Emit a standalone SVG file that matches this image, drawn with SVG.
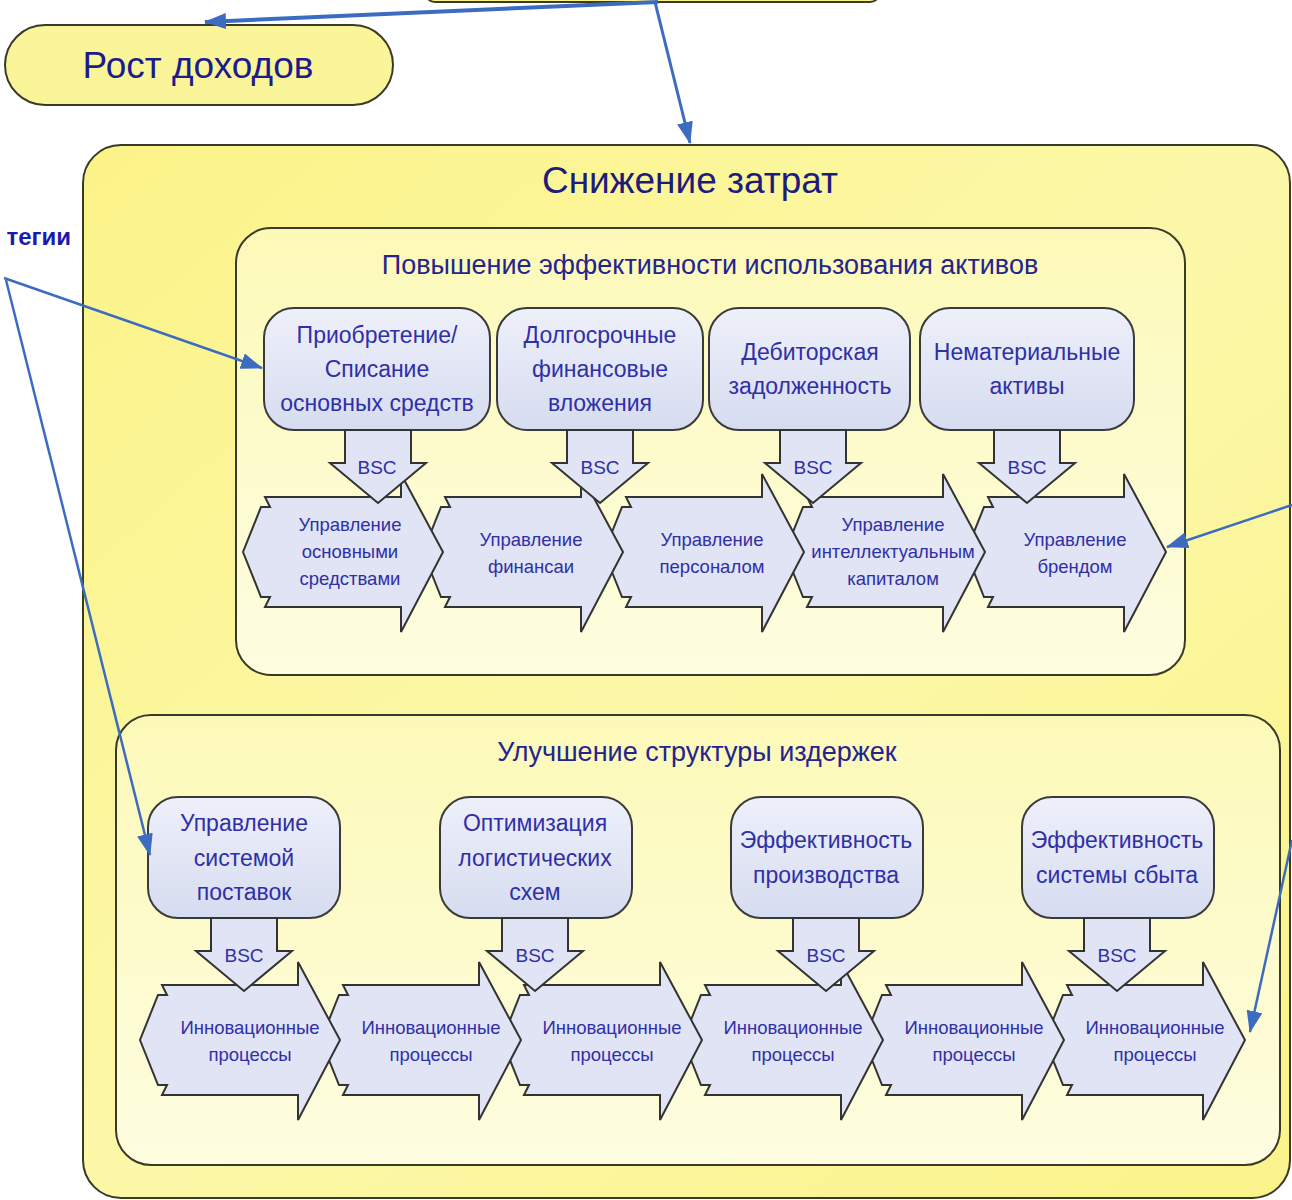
<svg xmlns="http://www.w3.org/2000/svg" xmlns:xlink="http://www.w3.org/1999/xlink" width="1292" height="1200" viewBox="0 0 1292 1200">
<style>
.box{stroke:#3a3a28;stroke-width:2}
.outer{fill:url(#gOuter)}
.inner{fill:url(#gInner)}
.node{fill:url(#gNode);stroke:#3a3a3a;stroke-width:2}
.chev{fill:#e0e4f4;stroke:#333;stroke-width:2;stroke-linejoin:miter}
.bsc{fill:#e0e4f4;stroke:#333;stroke-width:2}
.t{font-family:"Liberation Sans",Arial,sans-serif;text-anchor:middle;fill:#2f2fa8}
.big{font-size:37px;fill:#1c1c7a}
.sub{font-size:27px;fill:#24248e}
.nt{font-size:23px}
.ct{font-size:18.5px}
.bt{font-size:19px}
.conn{stroke:#3b6cc0;stroke-width:3;fill:none}
</style>
<defs>
<linearGradient id="gOuter" x1="0" y1="0" x2="1" y2="1">
<stop offset="0" stop-color="#fbf388"/><stop offset="0.5" stop-color="#fcf8a8"/><stop offset="1" stop-color="#fbf38a"/>
</linearGradient>
<linearGradient id="gInner" x1="0" y1="0" x2="0" y2="1">
<stop offset="0" stop-color="#fcf9b8"/><stop offset="1" stop-color="#fefde0"/>
</linearGradient>
<linearGradient id="gNode" x1="0" y1="0" x2="0" y2="1">
<stop offset="0" stop-color="#eef0fa"/><stop offset="1" stop-color="#d6dcf0"/>
</linearGradient>
<path id="chev" d="M22,-55 L158,-55 L158,-78 L200,0 L158,80 L158,55 L22,55 L27,45 L18,45 L0,0 L18,-45 L27,-45 Z"/>
<path id="bscA" d="M-33,0 L33,0 L33,33 L48,33 L0,73 L-48,33 L-33,33 Z"/>
<marker id="ah" viewBox="0 0 22 16" refX="21" refY="8" markerWidth="22" markerHeight="16" orient="auto" markerUnits="userSpaceOnUse">
<path d="M0,0 L22,8 L0,16 Z" fill="#3b6cc0"/>
</marker>
</defs>

<g id="top-box">
<rect class="box" x="425" y="-40" width="455" height="42" rx="10" fill="#fbf388"/>
</g>

<g id="rost">
<rect class="box" x="5" y="25" width="388" height="80" rx="40" fill="#fbf59a"/>
<text class="t big" x="198" y="78" style="fill:#1c1c8c">Рост доходов</text>
</g>

<g id="label-strategy">
<text x="71" y="245" style="font-family:'Liberation Sans',Arial,sans-serif;font-weight:bold;font-size:24px;fill:#1a1ab0;text-anchor:end">тегии</text>
</g>

<g id="snizhenie">
<rect class="box outer" x="83" y="145" width="1207" height="1053" rx="38"/>
<text class="t big" x="690" y="193">Снижение затрат</text>
</g>

<g id="aktivy">
<rect class="box inner" x="236" y="228" width="949" height="447" rx="35"/>
<text class="t sub" x="710" y="274">Повышение эффективности использования активов</text>
</g>

<g id="izderzhki">
<rect class="box inner" x="116" y="715" width="1164" height="450" rx="35"/>
<text class="t sub" x="697" y="761">Улучшение структуры издержек</text>
</g>

<!-- Row 1 chevrons (drawn right to left) -->
<g id="chev-r1-5"><use href="#chev" class="chev" x="966" y="552"/><text class="t ct" x="1075" y="546">Управление</text><text class="t ct" x="1075" y="573">брендом</text></g>
<g id="chev-r1-4"><use href="#chev" class="chev" x="785" y="552"/><text class="t ct" x="893" y="531">Управление</text><text class="t ct" x="893" y="558">интеллектуальным</text><text class="t ct" x="893" y="585">капиталом</text></g>
<g id="chev-r1-3"><use href="#chev" class="chev" x="604" y="552"/><text class="t ct" x="712" y="546">Управление</text><text class="t ct" x="712" y="573">персоналом</text></g>
<g id="chev-r1-2"><use href="#chev" class="chev" x="423" y="552"/><text class="t ct" x="531" y="546">Управление</text><text class="t ct" x="531" y="573">финансаи</text></g>
<g id="chev-r1-1"><use href="#chev" class="chev" x="243" y="552"/><text class="t ct" x="350" y="531">Управление</text><text class="t ct" x="350" y="558">основными</text><text class="t ct" x="350" y="585">средствами</text></g>

<!-- Row 2 chevrons -->
<g id="chev-r2-6"><use href="#chev" class="chev" x="1045" y="1040"/><text class="t ct" x="1155" y="1034">Инновационные</text><text class="t ct" x="1155" y="1061">процессы</text></g>
<g id="chev-r2-5"><use href="#chev" class="chev" x="864" y="1040"/><text class="t ct" x="974" y="1034">Инновационные</text><text class="t ct" x="974" y="1061">процессы</text></g>
<g id="chev-r2-4"><use href="#chev" class="chev" x="683" y="1040"/><text class="t ct" x="793" y="1034">Инновационные</text><text class="t ct" x="793" y="1061">процессы</text></g>
<g id="chev-r2-3"><use href="#chev" class="chev" x="502" y="1040"/><text class="t ct" x="612" y="1034">Инновационные</text><text class="t ct" x="612" y="1061">процессы</text></g>
<g id="chev-r2-2"><use href="#chev" class="chev" x="321" y="1040"/><text class="t ct" x="431" y="1034">Инновационные</text><text class="t ct" x="431" y="1061">процессы</text></g>
<g id="chev-r2-1"><use href="#chev" class="chev" x="140" y="1040"/><text class="t ct" x="250" y="1034">Инновационные</text><text class="t ct" x="250" y="1061">процессы</text></g>

<!-- Row 1 nodes -->
<g id="n-priobretenie"><rect class="node" x="264" y="308" width="226" height="122" rx="30"/><text class="t nt" x="377" y="343">Приобретение/</text><text class="t nt" x="377" y="377">Списание</text><text class="t nt" x="377" y="411">основных средств</text></g>
<g id="n-dolgosrochnye"><rect class="node" x="497" y="308" width="206" height="122" rx="30"/><text class="t nt" x="600" y="343">Долгосрочные</text><text class="t nt" x="600" y="377">финансовые</text><text class="t nt" x="600" y="411">вложения</text></g>
<g id="n-debitorskaya"><rect class="node" x="709" y="308" width="201" height="122" rx="30"/><text class="t nt" x="810" y="360">Дебиторская</text><text class="t nt" x="810" y="394">задолженность</text></g>
<g id="n-nematerialnye"><rect class="node" x="920" y="308" width="214" height="122" rx="30"/><text class="t nt" x="1027" y="360">Нематериальные</text><text class="t nt" x="1027" y="394">активы</text></g>

<!-- Row 1 BSC -->
<g id="bsc-r1-1"><use href="#bscA" class="bsc" x="378" y="430"/><text class="t bt" x="377" y="474">BSC</text></g>
<g id="bsc-r1-2"><use href="#bscA" class="bsc" x="600" y="430"/><text class="t bt" x="600" y="474">BSC</text></g>
<g id="bsc-r1-3"><use href="#bscA" class="bsc" x="813" y="430"/><text class="t bt" x="813" y="474">BSC</text></g>
<g id="bsc-r1-4"><use href="#bscA" class="bsc" x="1027" y="430"/><text class="t bt" x="1027" y="474">BSC</text></g>

<!-- Row 2 nodes -->
<g id="n-postavki"><rect class="node" x="148" y="797" width="192" height="121" rx="30"/><text class="t nt" x="244" y="831">Управление</text><text class="t nt" x="244" y="866">системой</text><text class="t nt" x="244" y="900">поставок</text></g>
<g id="n-logistika"><rect class="node" x="440" y="797" width="192" height="121" rx="30"/><text class="t nt" x="535" y="831">Оптимизация</text><text class="t nt" x="535" y="866">логистических</text><text class="t nt" x="535" y="900">схем</text></g>
<g id="n-proizvodstvo"><rect class="node" x="731" y="797" width="192" height="121" rx="30"/><text class="t nt" x="826" y="848">Эффективность</text><text class="t nt" x="826" y="883">производства</text></g>
<g id="n-sbyt"><rect class="node" x="1022" y="797" width="192" height="121" rx="30"/><text class="t nt" x="1117" y="848">Эффективность</text><text class="t nt" x="1117" y="883">системы сбыта</text></g>

<!-- Row 2 BSC -->
<g id="bsc-r2-1"><use href="#bscA" class="bsc" x="244" y="918"/><text class="t bt" x="244" y="962">BSC</text></g>
<g id="bsc-r2-2"><use href="#bscA" class="bsc" x="535" y="918"/><text class="t bt" x="535" y="962">BSC</text></g>
<g id="bsc-r2-3"><use href="#bscA" class="bsc" x="826" y="918"/><text class="t bt" x="826" y="962">BSC</text></g>
<g id="bsc-r2-4"><use href="#bscA" class="bsc" x="1117" y="918"/><text class="t bt" x="1117" y="962">BSC</text></g>

<g id="connectors">
<line class="conn" x1="658" y1="2" x2="205" y2="22" marker-end="url(#ah)" style="stroke-width:4"/>
<line class="conn" x1="655" y1="2" x2="690" y2="143" marker-end="url(#ah)"/>
<line class="conn" x1="4" y1="278" x2="262" y2="368" marker-end="url(#ah)" style="stroke-width:2.5"/>
<line class="conn" x1="6" y1="280" x2="150" y2="855" marker-end="url(#ah)" style="stroke-width:2.5"/>
<line class="conn" x1="1292" y1="505" x2="1167" y2="547" marker-end="url(#ah)" style="stroke-width:2.5"/>
<line class="conn" x1="1292" y1="840" x2="1250" y2="1032" marker-end="url(#ah)" style="stroke-width:2.5"/>
</g>
</svg>
